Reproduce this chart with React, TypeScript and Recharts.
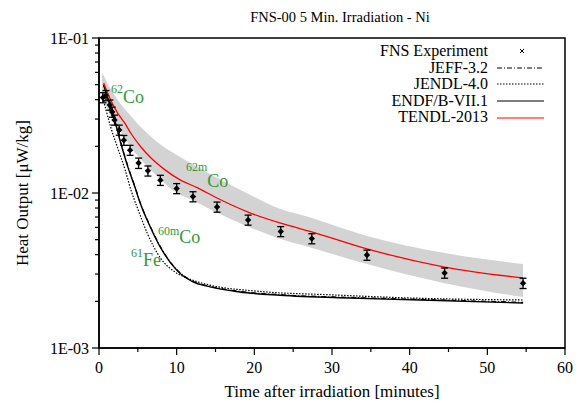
import React from 'react';
import {
  ComposedChart,
  Line,
  Area,
  Scatter,
  XAxis,
  YAxis,
  ErrorBar,
  ReferenceDot,
  ReferenceArea,
} from 'recharts';

const FONT = '"Liberation Serif", "Times New Roman", Times, serif';
const GREEN = '#339933';

// ---- Data ----
const expTime = [0.5, 0.9, 1.4, 1.7, 2.0, 2.6, 3.2, 4.0, 5.1, 6.3, 7.9, 10.0, 12.1, 15.2, 19.2, 23.4, 27.4, 34.5, 44.5, 54.6];
const expValue = [0.0413, 0.0426, 0.037, 0.0333, 0.0296, 0.0255, 0.0219, 0.0189, 0.0156, 0.0139, 0.0121, 0.0107, 0.00948, 0.00813, 0.0067, 0.00565, 0.00508, 0.00398, 0.00305, 0.00262];
const expError = [0.0031, 0.0032, 0.0028, 0.0025, 0.0022, 0.0019, 0.0016, 0.0014, 0.0012, 0.00104, 0.00091, 0.0008, 0.00071, 0.00061, 0.0005, 0.00042, 0.00038, 0.0003, 0.00023, 0.0002];

const tendlTime = [0.6, 1.5, 2.4, 3.3, 4.1, 5.4, 6.7, 8.5, 10.5, 12.7, 15.2, 19.2, 23.4, 27.5, 34.5, 44.5, 54.6];
const tendlValue = [0.0512, 0.0398, 0.0328, 0.0283, 0.0243, 0.0198, 0.0168, 0.0141, 0.0121, 0.0108, 0.00928, 0.00753, 0.00639, 0.0056, 0.00436, 0.00333, 0.00283];

const bandTime = [0.4, 1, 2, 3, 4, 5, 6, 8, 10, 12, 15, 19, 23, 27, 34.5, 44.5, 54.6];
const bandUpper = [0.0604, 0.052, 0.0428, 0.0364, 0.0318, 0.0279, 0.0248, 0.0204, 0.0176, 0.0154, 0.0127, 0.01, 0.008, 0.007, 0.00528, 0.0041, 0.00348];
const bandLower = [0.0416, 0.0353, 0.0287, 0.024, 0.0201, 0.0173, 0.0152, 0.0121, 0.01, 0.00901, 0.00754, 0.00612, 0.00513, 0.00449, 0.00348, 0.00262, 0.00213];

const endfTime = [0.6, 1.2, 2.1, 2.8, 3.7, 4.6, 5.3, 6.6, 8.1, 10.0, 12.1, 14.3, 18.1, 23.3, 32.3, 41.3, 54.6];
const endfValue = [0.0497, 0.0398, 0.0284, 0.021, 0.0148, 0.011, 0.00861, 0.00604, 0.00429, 0.00318, 0.00267, 0.00248, 0.0023, 0.00219, 0.0021, 0.00204, 0.00195];
const jeffValue = [0.05, 0.04, 0.0286, 0.0212, 0.015, 0.0111, 0.00868, 0.0061, 0.00433, 0.00321, 0.00269, 0.0025, 0.00232, 0.00221, 0.00212, 0.00206, 0.00197];

const jendlTime = [0.5, 1.5, 2.5, 3.4, 4.1, 4.9, 6.2, 7.9, 9.8, 11.3, 14.2, 20.2, 30.2, 40.3, 54.6];
const jendlValue = [0.041, 0.0267, 0.0189, 0.0139, 0.0105, 0.00813, 0.00552, 0.00381, 0.00309, 0.00283, 0.00255, 0.00233, 0.0022, 0.0021, 0.00204];

const xTicks = [0, 5, 10, 15, 20, 25, 30, 35, 40, 45, 50, 55, 60];
const xMajor = [0, 10, 20, 30, 40, 50, 60];
const yTicks = [0.001, 0.002, 0.003, 0.004, 0.005, 0.006, 0.007, 0.008, 0.009, 0.01, 0.02, 0.03, 0.04, 0.05, 0.06, 0.07, 0.08, 0.09, 0.1];
const yMajor = [0.001, 0.01, 0.1];
const yMajorLabels = ['1E-03', '1E-02', '1E-01'];

const legendNames = ['FNS Experiment', 'JEFF-3.2', 'JENDL-4.0', 'ENDF/B-VII.1', 'TENDL-2013'];

const annotations = [
  { t: 1.54, v: 0.0381, sup: '62', base: 'Co', rise: 10 },
  { t: 11.2, v: 0.01094, sup: '62m', base: 'Co', rise: 16 },
  { t: 7.59, v: 0.00475, sup: '60m', base: 'Co', rise: 8 },
  { t: 4.12, v: 0.00338, sup: '61', base: 'Fe', rise: 9 },
];

// ---- Build series ----
const expData = expTime.map((t, i) => ({ t, v: expValue[i], err: expError[i] }));
const tendlData = tendlTime.map((t, i) => ({ t, v: tendlValue[i] }));
const bandData = bandTime.map((t, i) => ({ t, r: [bandLower[i], bandUpper[i]] }));
const endfData = endfTime.map((t, i) => ({ t, v: endfValue[i] }));
const jeffData = endfTime.map((t, i) => ({ t, v: jeffValue[i] }));
const jendlData = jendlTime.map((t, i) => ({ t, v: jendlValue[i] }));

const YTick = (props: any) => {
  const { x, y, payload } = props;
  const idx = yMajor.indexOf(payload.value);
  const major = idx >= 0;
  return (
    <g>
      <line x1={x} x2={x - (major ? 7 : 4)} y1={y} y2={y} stroke="#000" strokeWidth={1.2} />
      {major && (
        <text x={x - 10} y={y} textAnchor="end" dominantBaseline="central" fontSize={16} fontFamily={FONT} fill="#000">
          {yMajorLabels[idx]}
        </text>
      )}
    </g>
  );
};

const XTick = (props: any) => {
  const { x, y, payload } = props;
  const major = xMajor.indexOf(payload.value) >= 0;
  return (
    <g>
      <line x1={x} x2={x} y1={y} y2={y + (major ? 7 : 4)} stroke="#000" strokeWidth={1.2} />
      {major && (
        <text x={x} y={y + 25} textAnchor="middle" fontSize={16} fontFamily={FONT} fill="#000">
          {payload.value}
        </text>
      )}
    </g>
  );
};

const Diamond = (props: any) => {
  const { cx, cy } = props;
  if (cx == null || cy == null) return null;
  const s = 3.2;
  return <polygon points={`${cx},${cy - s} ${cx + s},${cy} ${cx},${cy + s} ${cx - s},${cy}`} fill="#000" />;
};

const LegendSample = ({ i }: { i: number }) => {
  if (i === 0) {
    return (
      <svg width={50} height={12}>
        <line x1={24} y1={4} x2={28} y2={8} stroke="#000" strokeWidth={1} />
        <line x1={28} y1={4} x2={24} y2={8} stroke="#000" strokeWidth={1} />
      </svg>
    );
  }
  const styles = [
    null,
    { stroke: '#000', dash: '5 2 1 2' },
    { stroke: '#000', dash: '1.5 1.5' },
    { stroke: '#000', dash: undefined },
    { stroke: '#ff0000', dash: undefined },
  ];
  const st = styles[i]!;
  return (
    <svg width={50} height={12}>
      <line x1={1} y1={6} x2={48} y2={6} stroke={st.stroke} strokeWidth={1.2} strokeDasharray={st.dash} />
    </svg>
  );
};

export default function App() {
  return (
    <div style={{ position: 'absolute', left: 0, top: 0, width: 576, height: 407, background: '#fff' }}>
      <div
        style={{
          position: 'absolute',
          left: 190,
          top: 8,
          width: 300,
          textAlign: 'center',
          fontFamily: FONT,
          fontSize: 14.5,
          lineHeight: '18px',
          color: '#000',
        }}
      >
        FNS-00 5 Min. Irradiation - Ni
      </div>
      <ComposedChart width={576} height={407} margin={{ top: 38, right: 11, bottom: 0, left: 0 }}>
        <XAxis
          dataKey="t"
          type="number"
          domain={[0, 60]}
          ticks={xTicks}
          interval={0}
          tickSize={0}
          tickMargin={0}
          tickLine={false}
          tick={<XTick />}
          height={59}
          axisLine={{ stroke: '#000', strokeWidth: 1.5 }}
          label={{
            content: (p: any) => (
              <text
                x={p.viewBox.x + p.viewBox.width / 2}
                y={p.viewBox.y + 49}
                textAnchor="middle"
                fontSize={17}
                fontFamily={FONT}
                fill="#000"
              >
                Time after irradiation [minutes]
              </text>
            ),
          }}
        />
        <YAxis
          type="number"
          scale="log"
          domain={[0.001, 0.1]}
          ticks={yTicks}
          interval={0}
          allowDataOverflow
          width={99}
          tickSize={0}
          tickMargin={0}
          tickLine={false}
          tick={<YTick />}
          axisLine={{ stroke: '#000', strokeWidth: 1.5 }}
          label={{
            content: (p: any) => {
              const cx = 22;
              const cy = p.viewBox.y + p.viewBox.height / 2;
              return (
                <text
                  x={cx}
                  y={cy}
                  transform={`rotate(-90 ${cx} ${cy})`}
                  textAnchor="middle"
                  dominantBaseline="central"
                  fontSize={17}
                  fontFamily={FONT}
                  fill="#000"
                >
                  Heat Output [μW/kg]
                </text>
              );
            },
          }}
        />
        <Area
          data={bandData}
          dataKey="r"
          type="monotone"
          stroke="none"
          fill="#d3d3d3"
          fillOpacity={1}
          isAnimationActive={false}
          dot={false}
          activeDot={false}
        />
        <Line
          data={jeffData}
          dataKey="v"
          type="monotone"
          stroke="#000"
          strokeWidth={1.2}
          strokeDasharray="5 2 1 2"
          dot={false}
          activeDot={false}
          isAnimationActive={false}
        />
        <Line
          data={jendlData}
          dataKey="v"
          type="monotone"
          stroke="#000"
          strokeWidth={1.2}
          strokeDasharray="1.5 1.5"
          dot={false}
          activeDot={false}
          isAnimationActive={false}
        />
        <Line
          data={endfData}
          dataKey="v"
          type="monotone"
          stroke="#000"
          strokeWidth={1.4}
          dot={false}
          activeDot={false}
          isAnimationActive={false}
        />
        <Line
          data={tendlData}
          dataKey="v"
          type="monotone"
          stroke="#ff0000"
          strokeWidth={1.3}
          dot={false}
          activeDot={false}
          isAnimationActive={false}
        />
        <Scatter data={expData} dataKey="v" shape={<Diamond />} isAnimationActive={false}>
          <ErrorBar dataKey="err" direction="y" width={3.5} stroke="#000" strokeWidth={1.3} />
        </Scatter>
        {annotations.map((a, i) => (
          <ReferenceDot
            key={i}
            x={a.t}
            y={a.v}
            r={0}
            shape={(p: any) => (
              <text x={p.cx} y={p.cy} fill={GREEN} fontFamily={FONT}>
                <tspan fontSize={12} dy={-a.rise}>{a.sup}</tspan>
                <tspan fontSize={18} dy={a.rise}>{a.base}</tspan>
              </text>
            )}
          />
        ))}
        <ReferenceArea x1={0} x2={60} y1={0.001} y2={0.1} fill="none" stroke="#000" strokeWidth={1.5} fillOpacity={0} />
      </ComposedChart>
      <div style={{ position: 'absolute', left: 300, top: 43, width: 250, fontFamily: FONT, fontSize: 16, color: '#000' }}>
        {legendNames.map((n, i) => (
          <div key={n} style={{ display: 'flex', alignItems: 'center', justifyContent: 'flex-end', height: 16.6, lineHeight: '16.6px' }}>
            <span style={{ whiteSpace: 'nowrap' }}>{n}</span>
            <span style={{ display: 'inline-block', width: 8 }} />
            <LegendSample i={i} />
            <span style={{ display: 'inline-block', width: 4 }} />
          </div>
        ))}
      </div>
    </div>
  );
}
